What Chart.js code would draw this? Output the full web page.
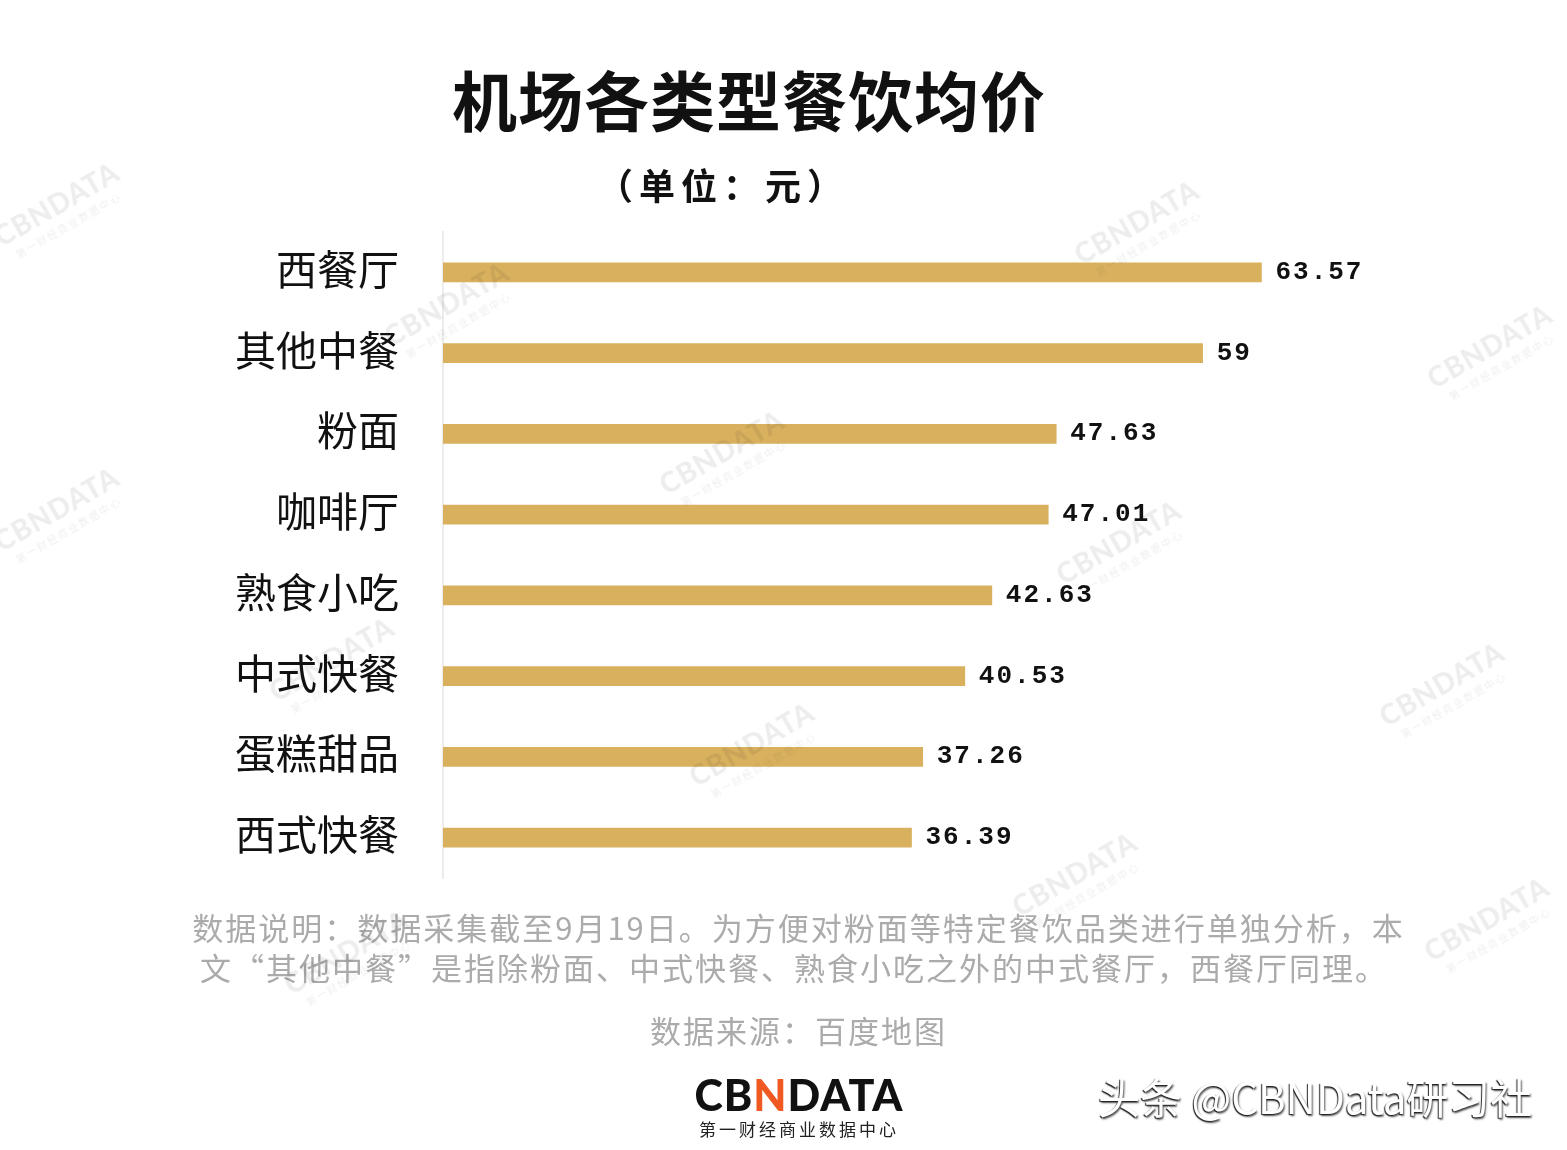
<!DOCTYPE html>
<html>
<head>
<meta charset="utf-8">
<script src="https://cdn.jsdelivr.net/npm/chart.js@4.4.1/dist/chart.umd.min.js"></script>
<style>
  html, body { margin: 0; padding: 0; background: #fff; }
  body { width: 1567px; height: 1150px; position: relative; overflow: hidden; font-family: "Noto Sans CJK SC", "Noto Sans", sans-serif; }
  #wrap { position: absolute; left: 0; top: 0; width: 1567px; height: 1150px; }
  .txt { position: absolute; white-space: nowrap; line-height: 1; }
  #title { left: 0; width: 1498px; text-align: center; top: 66px; font-size: 65px; letter-spacing: 1px; font-weight: 700; color: #111; }
  #sub { left: 0; width: 1446px; text-align: center; top: 166px; font-size: 36px; letter-spacing: 6px; font-weight: 700; color: #111; }
  .note { left: 0; width: 1597px; text-align: center; font-size: 31px; letter-spacing: 2px; color: #ababab; }
  #logo { left: 0; width: 1598px; text-align: center; top: 1073px; font-family: Lato, sans-serif; font-weight: 900; font-size: 43px; color: #111; letter-spacing: 1px; }
  #logo span { color: #f05a22; }
  #logoSub { left: 0; width: 1598px; text-align: center; top: 1120px; font-size: 17px; letter-spacing: 3px; color: #222; }
  #brand { left: 1098px; top: 1075px; font-size: 42px; color: #fff; text-shadow: -1px 1px 1px #222, 1px 2px 2px #555; }
  .wm { position: absolute; transform: translate(-50%, -50%) rotate(-30deg); color: rgba(0,0,0,0.07); text-align: center; pointer-events: none; }
  .wm b { display: block; font-family: Lato, sans-serif; font-weight: 900; font-size: 28px; letter-spacing: 1px; }
  .wm i { display: block; font-style: normal; font-size: 10px; letter-spacing: 2px; }
</style>
</head>
<body>
<div id="wrap"><canvas id="chart"></canvas></div>

<div class="txt" id="title">机场各类型餐饮均价</div>
<div class="txt" id="sub">（单位：元）</div>
<div class="txt note" style="top:911px;">数据说明：数据采集截至9月19日。为方便对粉面等特定餐饮品类进行单独分析，本</div>
<div class="txt note" style="top:951px; width:1588px;">文“其他中餐”是指除粉面、中式快餐、熟食小吃之外的中式餐厅，西餐厅同理。</div>
<div class="txt note" style="top:1014px;">数据来源：百度地图</div>
<div class="txt" id="logo">CB<span>N</span>DATA</div>
<div class="txt" id="logoSub">第一财经商业数据中心</div>
<div class="txt" id="brand">头条 @CBNData研习社</div>

<script>
const categories = ['西餐厅', '其他中餐', '粉面', '咖啡厅', '熟食小吃', '中式快餐', '蛋糕甜品', '西式快餐'];
const prices = [63.57, 59, 47.63, 47.01, 42.63, 40.53, 37.26, 36.39];

const BAR_COLOR = '#d9b15e';

// watermark spots, just decoration
const WATERMARKS = [[60, 210], [450, 310], [1140, 228], [1493, 352], [60, 515], [725, 458],
  [1122, 548], [1445, 690], [755, 750], [1078, 880], [1490, 925], [335, 665], [350, 958]];

WATERMARKS.forEach(([x, y]) => {
  const el = document.createElement('div');
  el.className = 'wm';
  el.style.left = x + 'px';
  el.style.top = y + 'px';
  el.innerHTML = '<b>CBNDATA</b><i>第一财经商业数据中心</i>';
  document.body.appendChild(el);
});

// ── value labels at bar ends ──────────────────────────
const valueLabels = {
  id: 'valueLabels',
  afterDatasetsDraw(chart) {
    const { ctx } = chart;
    const meta = chart.getDatasetMeta(0);
    ctx.save();
    ctx.font = 'bold 26px "Liberation Mono", monospace';
    ctx.letterSpacing = '2px';
    ctx.fillStyle = '#111';
    ctx.textAlign = 'left';
    ctx.textBaseline = 'middle';
    meta.data.forEach((bar, i) => {
      ctx.fillText(String(prices[i]), bar.x + 14, bar.y);
    });
    ctx.restore();
  },
};

const ctx = document.getElementById('chart').getContext('2d');
new Chart(ctx, {
  type: 'bar',
  data: {
    labels: categories,
    datasets: [{
      data: prices,
      backgroundColor: BAR_COLOR,
      borderWidth: 0,
      barThickness: 19,
    }],
  },
  options: {
    indexAxis: 'y',
    responsive: true,
    maintainAspectRatio: false,
    animation: false,
    layout: { padding: { top: 232, bottom: 272, left: 0, right: 94 } },
    scales: {
      x: {
        min: 0, max: 80,
        display: false,
      },
      y: {
        grid: { display: false, drawTicks: false },
        border: { display: true, color: '#ececec', width: 2 },
        ticks: {
          padding: 44,
          labelOffset: -3,
          color: '#111',
          font: { family: '"Noto Sans CJK SC", sans-serif', size: 41 },
        },
        afterFit: (scale) => { scale.width = 443; },
      },
    },
    plugins: {
      legend: { display: false },
      tooltip: { enabled: false },
    },
  },
  plugins: [valueLabels],
});
</script>
</body>
</html>
